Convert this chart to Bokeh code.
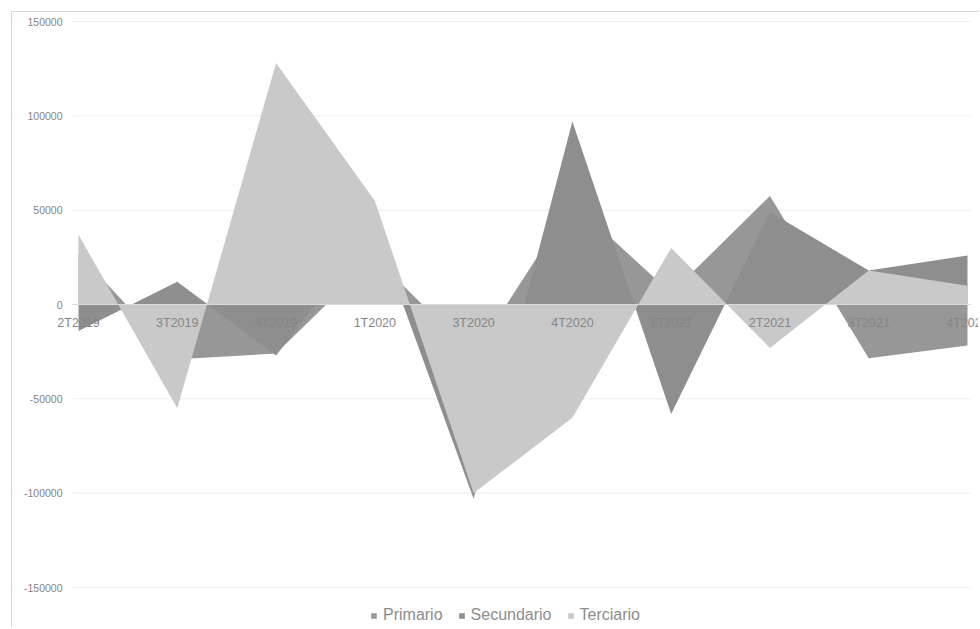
from bokeh.plotting import figure
from bokeh.models import Legend, LegendItem, ColumnDataSource, LabelSet
from bokeh.core.properties import value
from bokeh.embed import file_html
from bokeh.resources import INLINE

# ---- data ----
categories = ["2T2019", "3T2019", "4T2019", "1T2020", "3T2020", "4T2020",
              "1T2021", "2T2021", "3T2021", "4T2021"]
primario = [27000, -29000, -26000, 25000, -27000, 54000, 6000, 57500, -28500, -21700]
secundario = [-14000, 12000, -27000, 41000, -103000, 97000, -58000, 49000, 18000, 26000]
terciario = [37000, -55000, 128000, 55000, -100000, -60000, 30000, -23000, 18000, 10000]
y_ticks = [-150000, -100000, -50000, 0, 50000, 100000, 150000]
y_labels = ["-150000", "-100000", "-50000", "0", "50000", "100000", "150000"]

# ---- layout constants (screen pixels) ----
W, H = 978, 627
X_FIRST_PX, X_LAST_PX = 78, 967      # first / last category
Y_MAX_PX, Y_MIN_PX = 21, 587         # top / bottom tick
n = len(categories)
sxp = (X_LAST_PX - X_FIRST_PX) / (n - 1)
syp = (Y_MIN_PX - Y_MAX_PX) / (y_ticks[-1] - y_ticks[0])


def xd(px):
    return (px - X_FIRST_PX) / sxp


def yd(py):
    return y_ticks[-1] - (py - Y_MAX_PX) / syp


FONT = "Liberation Sans"
TXT = "#858585"

idx = list(range(n))
src = ColumnDataSource(dict(x=idx, p=primario, s=secundario, t=terciario))

p = figure(width=W, height=H, x_range=(xd(0), xd(W)), y_range=(yd(H), yd(0)),
           output_backend="svg", toolbar_location=None,
           x_axis_location=None, y_axis_location=None,
           min_border_left=0, min_border_right=0, min_border_top=0, min_border_bottom=0)
p.grid.visible = False
p.outline_line_color = None
p.background_fill_color = "white"
p.border_fill_color = "white"

# chart-area border (left and top)
p.segment(x0=[xd(11), xd(11)], y0=[yd(11), yd(11)], x1=[xd(11), xd(W)], y1=[yd(H), yd(11)],
          line_color="#d4d4d4", line_width=1)

# horizontal gridlines at the tick values
p.segment(x0=[xd(72)] * len(y_ticks), x1=[xd(970)] * len(y_ticks), y0=y_ticks, y1=y_ticks,
          line_color="#ececec", line_width=1)

r1 = p.varea(x="x", y1=0, y2="p", source=src, fill_color="#979797")
r2 = p.varea(x="x", y1=0, y2="s", source=src, fill_color="#8e8e8e")
r3 = p.varea(x="x", y1=0, y2="t", source=src, fill_color="#c9c9c9")

# category axis line at zero
p.segment(x0=[xd(72)], x1=[xd(970)], y0=[0], y1=[0], line_color="#dadada", line_width=1)

# y tick labels
ysrc = ColumnDataSource(dict(x=[xd(62)] * len(y_ticks), y=y_ticks, text=y_labels))
p.add_layout(LabelSet(x="x", y="y", text="text", source=ysrc,
                      text_align="right", text_baseline="middle",
                      text_font=value(FONT), text_font_size="10.5px", text_color=TXT))

# category labels below the zero line
xsrc = ColumnDataSource(dict(x=idx, y=[0] * n, text=categories))
p.add_layout(LabelSet(x="x", y="y", text="text", source=xsrc, y_offset=-18,
                      text_align="center", text_baseline="middle",
                      text_font=value(FONT), text_font_size="12.5px", text_color=TXT))

legend = Legend(items=[LegendItem(label="Primario", renderers=[r1]),
                       LegendItem(label="Secundario", renderers=[r2]),
                       LegendItem(label="Terciario", renderers=[r3])],
                orientation="horizontal", location=(370, 3),
                border_line_color=None, background_fill_alpha=0,
                glyph_width=7, glyph_height=7, label_standoff=6, spacing=15,
                padding=0, margin=0, label_height=17,
                label_text_font=FONT, label_text_font_size="16px",
                label_text_color="#8c8c8c")
p.add_layout(legend)

open("out.html", "w").write(file_html(p, INLINE))
